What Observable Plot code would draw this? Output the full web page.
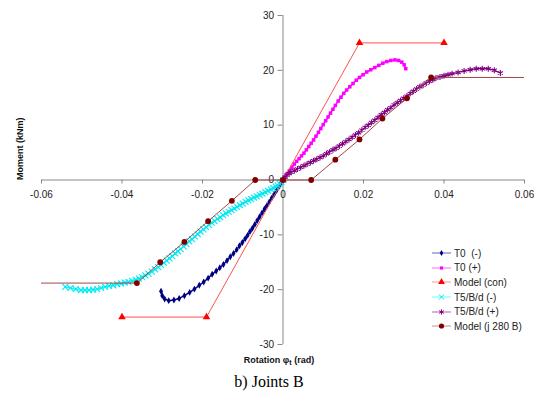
<!DOCTYPE html>
<html>
<head>
<meta charset="utf-8">
<script src="https://cdn.jsdelivr.net/npm/d3@7"></script>
<script src="https://cdn.jsdelivr.net/npm/@observablehq/plot@0.6"></script>
<style>
  html, body { margin: 0; padding: 0; background: #fff; }
  #wrap { position: relative; width: 534px; height: 406px; font-family: "Liberation Sans", Arial, sans-serif; }
  #caption { position: absolute; left: 0; top: 372px; width: 534px; text-align: center; font-family: "Liberation Serif", "Times New Roman", serif; font-size: 16px; line-height: 20px; color: #000; padding-left: 4px; box-sizing: border-box; }
  #legend { position: absolute; left: 432px; top: 246px; font-size: 10px; color: #222; }
  .row { height: 14.6px; display: flex; align-items: center; white-space: pre; }
  .row svg { margin-right: 3px; }
</style>
</head>
<body>
<div id="wrap">
  <div id="chart"></div>
  <div id="legend"></div>
  <div id="caption">b) Joints B</div>
</div>
<script>
// ---- axis ticks ----
const xTicks = [-0.06, -0.04, -0.02, 0, 0.02, 0.04, 0.06];
const xTickLabels = ["-0.06", "-0.04", "-0.02", "0", "0.02", "0.04", "0.06"];
const yTicks = [-30, -20, -10, 0, 10, 20, 30];
const yTickLabels = ["-30", "-20", "-10", "0", "10", "20", "30"];

// ---- series names ----
const seriesNames = ["T0  (-)", "T0 (+)", "Model (con)", "T5/B/d (-)", "T5/B/d (+)", "Model (j 280 B)"];

// ---- data [rotation (rad), moment (kNm)] ----
const t0Neg = [
  [0,0],[-0.0005,-0.6],[-0.001,-1.2],[-0.0016,-1.9],[-0.0022,-2.6],[-0.0028,-3.3],[-0.0034,-4.0],
  [-0.004,-4.7],[-0.0046,-5.3],[-0.0052,-6.0],[-0.0058,-6.7],[-0.0064,-7.4],[-0.007,-8.1],
  [-0.0076,-8.8],[-0.0082,-9.4],[-0.0088,-10.1],[-0.0094,-10.7],[-0.0101,-11.4],[-0.0108,-12.0],
  [-0.0115,-12.7],[-0.0123,-13.4],[-0.0131,-14.0],[-0.0139,-14.7],[-0.0148,-15.4],[-0.0157,-16.0],
  [-0.0166,-16.6],[-0.0176,-17.2],[-0.0186,-17.9],[-0.0197,-18.6],[-0.0208,-19.2],[-0.022,-19.9],
  [-0.0232,-20.5],[-0.0245,-21.1],[-0.0258,-21.6],[-0.0271,-21.9],[-0.0284,-22.0],[-0.0294,-21.7],
  [-0.03,-21.1],[-0.0303,-20.3]
];
const t0Pos = [
  [0,0],[0.0005,0.6],[0.001,1.1],[0.0016,1.7],[0.0022,2.3],[0.0028,2.9],[0.0034,3.4],[0.004,3.9],
  [0.0046,4.4],[0.0052,4.9],[0.0058,5.5],[0.0064,6.1],[0.007,6.7],[0.0076,7.3],[0.0082,8.0],
  [0.0088,8.7],[0.0094,9.4],[0.01,10.1],[0.0106,10.8],[0.0112,11.5],[0.0118,12.2],[0.0124,12.9],
  [0.013,13.6],[0.0137,14.4],[0.0144,15.1],[0.0151,15.8],[0.0158,16.4],[0.0166,17.0],[0.0174,17.6],
  [0.0182,18.2],[0.019,18.7],[0.0199,19.2],[0.0208,19.7],[0.0218,20.1],[0.0228,20.5],[0.0238,20.9],
  [0.0248,21.3],[0.0258,21.6],[0.0268,21.8],[0.0278,21.9],[0.0287,21.8],[0.0295,21.5],[0.0301,21.0],
  [0.0305,20.3]
];
const modelCon = [[-0.04,-25],[-0.019,-25],[0,0],[0.019,25],[0.04,25]];
const t5Neg = [
  [0,0],[-0.0004,-0.4],[-0.0008,-0.7],[-0.0013,-1.0],[-0.0018,-1.2],[-0.0024,-1.5],[-0.003,-1.7],
  [-0.0037,-2.0],[-0.0044,-2.2],[-0.0051,-2.5],[-0.0058,-2.7],[-0.0065,-3.0],[-0.0072,-3.2],
  [-0.0079,-3.5],[-0.0086,-3.7],[-0.0093,-4.0],[-0.01,-4.3],[-0.0107,-4.6],[-0.0114,-4.9],
  [-0.0121,-5.2],[-0.0128,-5.5],[-0.0135,-5.8],[-0.0142,-6.1],[-0.0149,-6.4],[-0.0156,-6.8],
  [-0.0163,-7.1],[-0.017,-7.5],[-0.0177,-7.8],[-0.0184,-8.2],[-0.0191,-8.6],[-0.0198,-9.0],
  [-0.0205,-9.4],[-0.0212,-9.9],[-0.0219,-10.3],[-0.0226,-10.8],[-0.0233,-11.2],[-0.024,-11.7],
  [-0.0247,-12.1],[-0.0254,-12.6],[-0.0261,-13.0],[-0.0268,-13.4],[-0.0275,-13.9],[-0.0282,-14.3],
  [-0.0289,-14.7],[-0.0296,-15.1],[-0.0303,-15.5],[-0.031,-15.9],[-0.0318,-16.3],[-0.0326,-16.7],
  [-0.0334,-17.1],[-0.0342,-17.4],[-0.035,-17.7],[-0.0358,-18.0],[-0.0366,-18.2],[-0.0375,-18.4],
  [-0.0384,-18.6],[-0.0393,-18.7],[-0.0402,-18.9],[-0.0412,-19.0],[-0.0422,-19.2],[-0.0432,-19.3],
  [-0.0442,-19.5],[-0.0452,-19.7],[-0.0462,-19.9],[-0.0472,-20.0],[-0.0482,-20.1],[-0.0492,-20.1],
  [-0.0502,-20.1],[-0.0515,-19.9],[-0.0528,-19.7],[-0.0541,-19.5]
];
const t5Pos = [
  [0,0],[0.0005,0.5],[0.001,0.9],[0.0015,1.2],[0.002,1.4],[0.0028,1.7],[0.0036,2.0],[0.0044,2.3],
  [0.0052,2.6],[0.006,2.9],[0.0068,3.2],[0.0076,3.5],[0.0084,3.8],[0.0092,4.1],[0.01,4.4],
  [0.0108,4.8],[0.0116,5.1],[0.0124,5.5],[0.0132,5.8],[0.014,6.2],[0.0148,6.6],[0.0156,7.0],
  [0.0164,7.4],[0.0172,7.8],[0.018,8.2],[0.0188,8.6],[0.0196,9.1],[0.0204,9.6],[0.0212,10.0],
  [0.022,10.5],[0.0228,10.9],[0.0236,11.4],[0.0244,11.9],[0.0252,12.3],[0.026,12.8],[0.0268,13.2],
  [0.0276,13.7],[0.0284,14.1],[0.0292,14.5],[0.03,14.9],[0.0308,15.3],[0.0316,15.8],[0.0324,16.2],
  [0.0332,16.6],[0.034,17.0],[0.0348,17.3],[0.0356,17.7],[0.0364,18.0],[0.0372,18.3],[0.038,18.6],
  [0.039,18.8],[0.04,19.0],[0.041,19.2],[0.042,19.4],[0.0435,19.6],[0.045,19.9],[0.0465,20.1],
  [0.048,20.3],[0.0495,20.3],[0.051,20.3],[0.0525,20.0],[0.054,19.5]
];
const modelJ280 = [
  [-0.066,-18.8],[-0.0363,-18.8],[-0.0305,-15.0],[-0.0245,-11.3],[-0.0186,-7.5],[-0.0127,-3.8],
  [-0.0069,0],[0,0],[0.007,0],[0.013,3.7],[0.019,7.4],[0.0247,11.2],[0.0308,14.9],[0.0368,18.7],
  [0.066,18.7]
];

// ---- styles ----
const styles = [
  {data: t0Neg, name: seriesNames[0], line: "#000080", fill: "#000080", symbol: "diamond", r: 2.1, lw: 1.5, stroke: false},
  {data: t0Pos, name: seriesNames[1], line: "#ff00ff", fill: "#ff00ff", symbol: "square", r: 2.0, lw: 1.5, stroke: false},
  {data: modelCon, name: seriesNames[2], line: "#ff5050", fill: "#ff0000", symbol: "triangle", r: 2.8, lw: 1, stroke: false},
  {data: t5Neg, name: seriesNames[3], line: "#00ffff", fill: "#00e8f0", symbol: "times", r: 2.8, lw: 1.2, stroke: true},
  {data: t5Pos, name: seriesNames[4], line: "#800080", fill: "#800080", symbol: "asterisk", r: 2.8, lw: 1.2, stroke: true},
  {data: modelJ280, name: seriesNames[5], line: "#a04848", fill: "#800000", symbol: "circle", r: 2.9, lw: 1, stroke: false}
];

const marks = [
  // axes lines
  Plot.ruleY([0], {x1: xTicks[0], x2: xTicks[xTicks.length - 1], stroke: "#888", strokeWidth: 1}),
  Plot.ruleX([0], {y1: yTicks[0], y2: yTicks[yTicks.length - 1], stroke: "#888", strokeWidth: 1}),
  // ticks
  Plot.ruleX(xTicks, {x: d => d, y1: 0, y2: 0, insetBottom: -4, stroke: "#888"}),
  Plot.ruleY(yTicks, {y: d => d, x1: 0, x2: 0, insetLeft: -5, stroke: "#888"}),
  // tick labels
  Plot.text(xTicks, {x: d => d, y: 0, text: (d, i) => xTickLabels[i], dy: 15, fontSize: 10, fill: "#222"}),
  Plot.text(yTicks, {x: 0, y: d => d, text: (d, i) => yTickLabels[i], dx: -9, textAnchor: "end", fontSize: 10, fill: "#222"}),
  // axis titles
  Plot.text(["Moment (kNm)"], {frameAnchor: "left", text: d => d, rotate: -90, dx: -21, fontSize: 9, fontWeight: "bold", fill: "#111"}),
  Plot.text(["Rotation \u03c6"], {frameAnchor: "bottom", text: d => d, dy: 18, dx: -4, textAnchor: "middle", fontSize: 9, fontWeight: "bold", fill: "#111", className: "xlabel"}),
];

for (const s of styles) {
  marks.push(Plot.line(s.data, {x: d => d[0], y: d => d[1], stroke: s.line, strokeWidth: s.lw, clip: true}));
  if (s.stroke) {
    marks.push(Plot.dot(s.data, {x: d => d[0], y: d => d[1], symbol: s.symbol, r: s.r, stroke: s.fill, strokeWidth: 1.1, clip: true}));
  } else {
    marks.push(Plot.dot(s.data, {x: d => d[0], y: d => d[1], symbol: s.symbol, r: s.r, fill: s.fill, stroke: "none", clip: true}));
  }
}

const chart = Plot.plot({
  width: 534,
  height: 372,
  marginLeft: 41,
  marginRight: 10,
  marginTop: 15,
  marginBottom: 28,
  x: {domain: [-0.06, 0.06], axis: null},
  y: {domain: [-30, 30], axis: null},
  style: {fontFamily: "'Liberation Sans', Arial, sans-serif", background: "#fff"},
  marks
});
document.getElementById("chart").appendChild(chart);

// subscript "t" and the unit appended to the x-axis title (same text chunk, so it stays centred)
const svgNS = "http://www.w3.org/2000/svg";
for (const t of chart.querySelectorAll("text")) {
  if (t.textContent === "Rotation \u03c6") {
    const sub = document.createElementNS(svgNS, "tspan");
    sub.setAttribute("font-size", "7");
    sub.setAttribute("dy", "2");
    sub.textContent = "t";
    const rest = document.createElementNS(svgNS, "tspan");
    rest.setAttribute("dy", "-2");
    rest.textContent = " (rad)";
    t.appendChild(sub);
    t.appendChild(rest);
  }
}

// ---- legend ----
const symMap = {diamond: d3.symbolDiamond, square: d3.symbolSquare, triangle: d3.symbolTriangle, times: d3.symbolTimes, asterisk: d3.symbolAsterisk, circle: d3.symbolCircle};
const legend = d3.select("#legend");
for (const s of styles) {
  const row = legend.append("div").attr("class", "row");
  const sv = row.append("svg").attr("width", 19).attr("height", 10);
  sv.append("line").attr("x1", 0).attr("x2", 19).attr("y1", 5).attr("y2", 5).attr("stroke", s.line).attr("stroke-width", 1).attr("opacity", 0.6);
  const p = d3.symbol(symMap[s.symbol], Math.PI * s.r * s.r * 0.8)();
  const path = sv.append("path").attr("d", p).attr("transform", "translate(9.5,5)");
  if (s.stroke) path.attr("fill", "none").attr("stroke", s.fill).attr("stroke-width", 1);
  else path.attr("fill", s.fill);
  row.append("span").text(s.name);
}
</script>
</body>
</html>
